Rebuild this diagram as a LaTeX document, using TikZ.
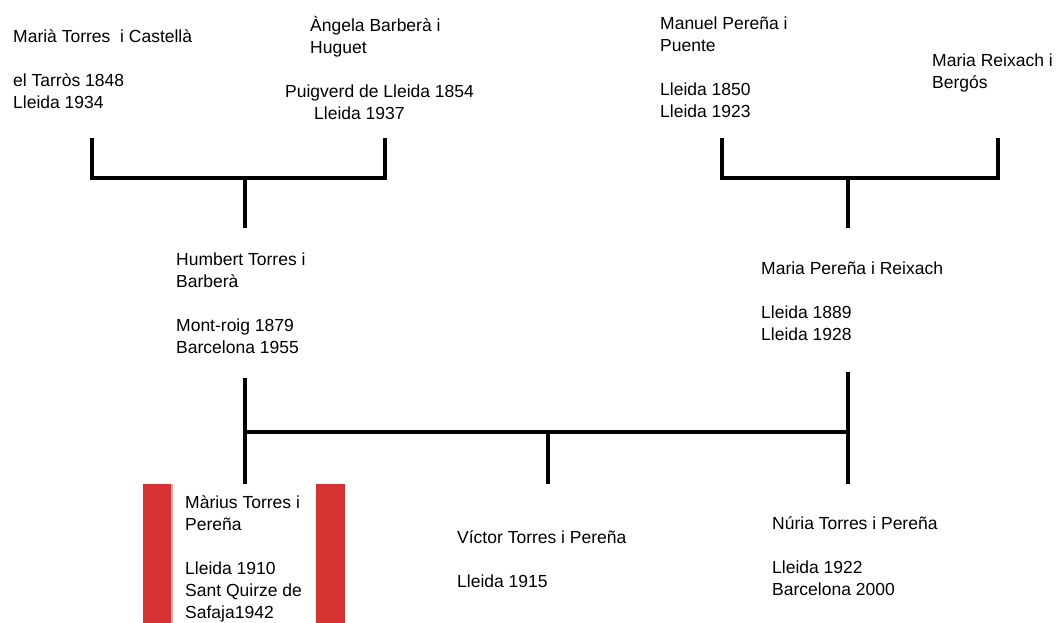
\documentclass[tikz,border=0pt]{standalone}
\usepackage{fontspec}
\setmainfont{Liberation Sans}
\definecolor{barred}{RGB}{214,50,50}
\newcommand{\treefont}{\fontsize{17.5}{22}\selectfont}
\tikzset{
	person/.style={anchor=north west, align=left, inner sep=0pt, font=\treefont, execute at begin node=\strut},
	branch/.style={line width=4pt, black}
}
\begin{document}
\begin{tikzpicture}[x=1pt,y=-1pt]
	\useasboundingbox (0,0) rectangle (1062,623);
	% marks either side of Marius
	\fill[barred] (143,484) rectangle (171,623);
	\fill[barred!45] (171,484) rectangle (173,623);
	\fill[barred] (316,484) rectangle (345,623);

	% grandparents
	\node (mtc) [person] at (13,29) {Marià Torres\ \ i Castellà\\[22pt]el Tarròs 1848\\Lleida 1934};
	\node (abh) [person] at (285,16) {\hspace*{25pt}Àngela Barberà i\\\hspace*{25pt}Huguet\\[22pt]Puigverd de Lleida 1854\\\hspace*{29pt}Lleida 1937};
	\node (mpp) [person] at (660,17) {Manuel Pereña i\\Puente\\[22pt]Lleida 1850\\Lleida 1923};
	\node (mrb) [person] at (932,54) {Maria Reixach i\\Bergós};
	% parents
	\node (htb) [person] at (176,253) {Humbert Torres i\\Barberà\\[22pt]Mont-roig 1879\\Barcelona 1955};
	\node (mpr) [person] at (761,262) {Maria Pereña i Reixach\\[22pt]Lleida 1889\\Lleida 1928};
	% children
	\node (mtp) [person] at (185,495) {Màrius Torres i\\Pereña\\[22pt]Lleida 1910\\Sant Quirze de\\Safaja1942};
	\node (vtp) [person] at (457,530) {Víctor Torres i Pereña\\[22pt]Lleida 1915};
	\node (ntp) [person] at (772,516) {Núria Torres i Pereña\\[22pt]Lleida 1922\\Barcelona 2000};

	\coordinate (mtc-b) at (92,138);
	\coordinate (abh-b) at (385,138);
	\coordinate (tb-j) at (245,178);
	\coordinate (htb-t) at (245,228);
	\coordinate (mpp-b) at (722,138);
	\coordinate (mrb-b) at (998,138);
	\coordinate (pr-j) at (848,178);
	\coordinate (mpr-t) at (848,228);
	\coordinate (htb-b) at (245,378);
	\coordinate (mpr-b) at (848,372);
	\coordinate (kids-j) at (548,432);
	\coordinate (mtp-t) at (245,484);
	\coordinate (vtp-t) at (548,484);
	\coordinate (ntp-t) at (848,484);

	\draw[branch] (mtc-b) |- (tb-j) -| (abh-b);
	\draw[branch] (tb-j) -- (htb-t);
	\draw[branch] (mpp-b) |- (pr-j) -| (mrb-b);
	\draw[branch] (pr-j) -- (mpr-t);
	\draw[branch] (htb-b) -- (mtp-t);
	\draw[branch] (mpr-b) -- (ntp-t);
	\draw[branch] (mtp-t |- kids-j) -- (ntp-t |- kids-j);
	\draw[branch] (kids-j) -- (vtp-t);
\end{tikzpicture}
\end{document}
